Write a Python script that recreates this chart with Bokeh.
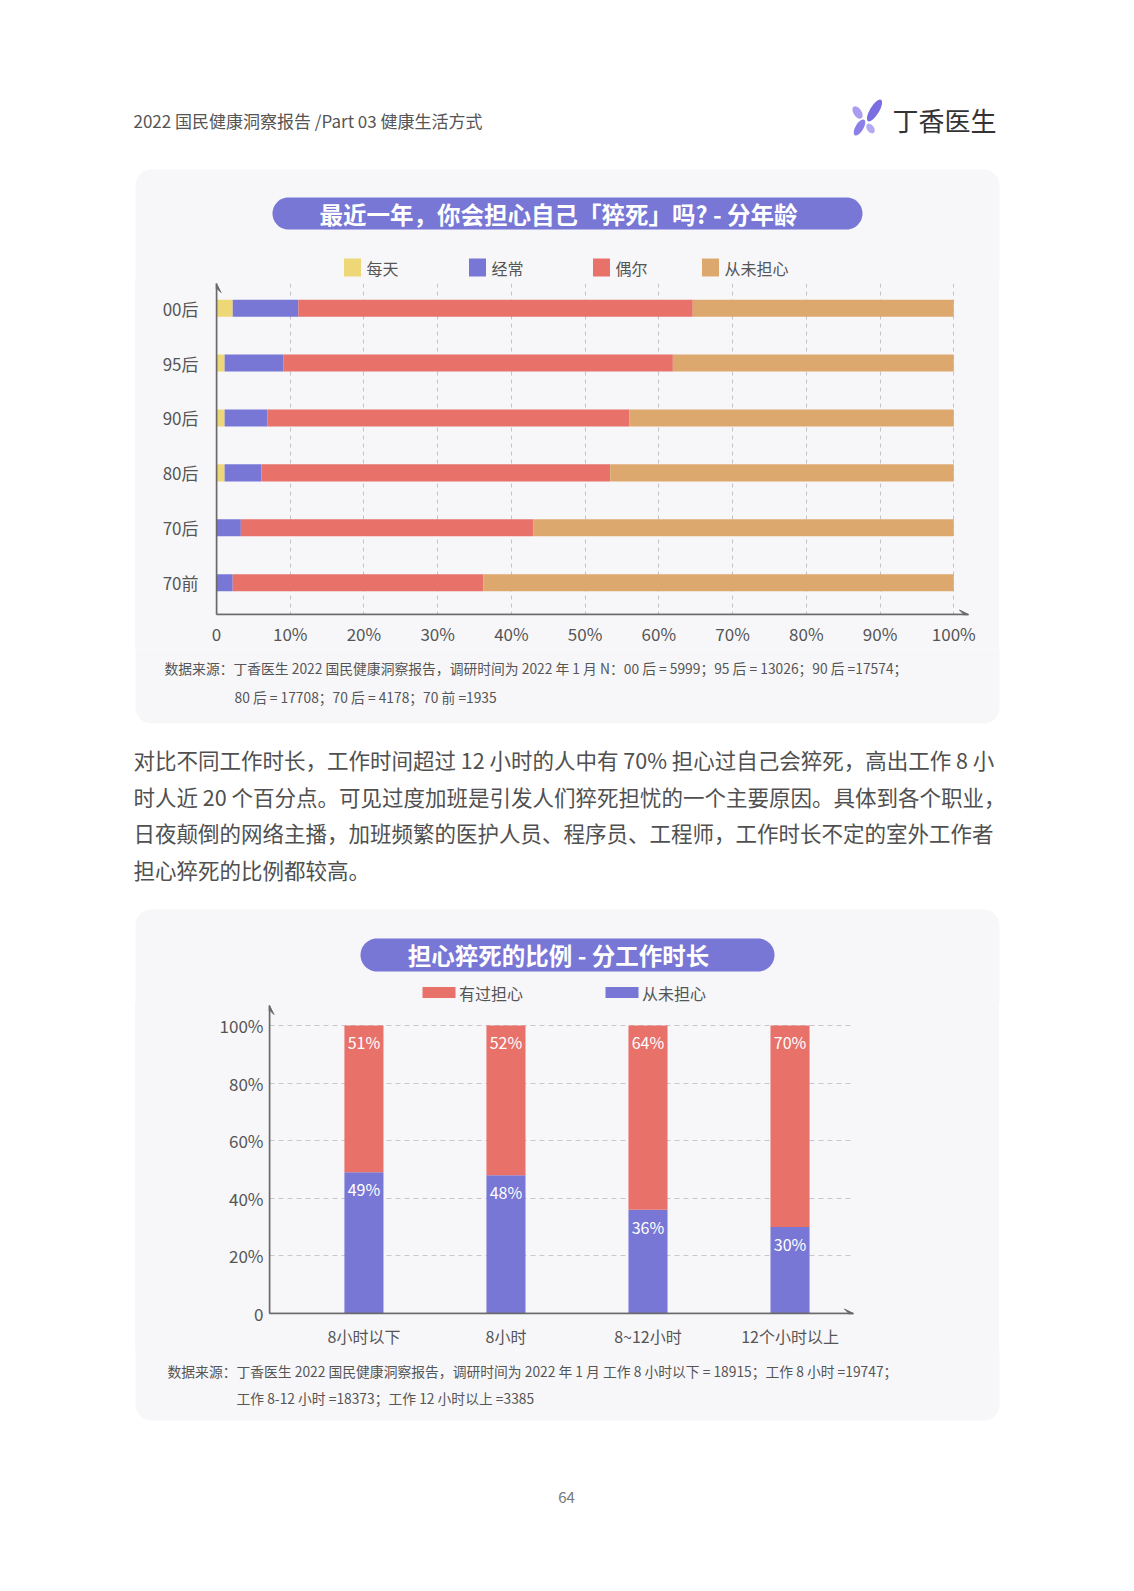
import numpy as np
from bokeh.plotting import figure
from bokeh.models import Range1d, ColumnDataSource, FixedTicker, Arrow, VeeHead
from bokeh.layouts import column, row
from bokeh.core.properties import value
from bokeh.embed import file_html
from bokeh.resources import INLINE

FONT = "Noto Sans CJK SC"

# ---------------- data: chart 1 ----------------
ages = ["00后", "95后", "90后", "80后", "70后", "70前"]
series1 = ["每天", "经常", "偶尔", "从未担心"]
daily = [2.2, 1.1, 1.1, 1.1, 0.0, 0.0]
often = [8.9, 8.0, 5.8, 5.0, 3.3, 2.2]
sometimes = [53.5, 52.8, 49.1, 47.3, 39.7, 34.0]
never1 = [35.4, 38.1, 44.0, 46.6, 57.0, 63.8]
x_ticks1 = [0, 10, 20, 30, 40, 50, 60, 70, 80, 90, 100]
x_tick_labels1 = ["0", "10%", "20%", "30%", "40%", "50%", "60%", "70%", "80%", "90%", "100%"]

# ---------------- data: chart 2 ----------------
hours = ["8小时以下", "8小时", "8~12小时", "12个小时以上"]
series2 = ["有过担心", "从未担心"]
worried = [51, 52, 64, 70]
never2 = [49, 48, 36, 30]
y_ticks2 = [0, 20, 40, 60, 80, 100]
y_tick_labels2 = ["0", "20%", "40%", "60%", "80%", "100%"]

# ---------------- texts ----------------
header_text = "2022 国民健康洞察报告 /Part 03 健康生活方式"
logo_text = "丁香医生"
title1 = "最近一年，你会担心自己「猝死」吗? - 分年龄"
title2 = "担心猝死的比例 - 分工作时长"
source1_lines = ["数据来源：丁香医生 2022 国民健康洞察报告，调研时间为 2022 年 1 月 N：00 后 = 5999；95 后 = 13026；90 后 =17574；",
                 "80 后 = 17708；70 后 = 4178；70 前 =1935"]
source2_lines = ["数据来源：丁香医生 2022 国民健康洞察报告，调研时间为 2022 年 1 月 工作 8 小时以下 = 18915；工作 8 小时 =19747；",
                 "工作 8-12 小时 =18373；工作 12 小时以上 =3385"]
para_lines = ["对比不同工作时长，工作时间超过 12 小时的人中有 70% 担心过自己会猝死，高出工作 8 小",
              "时人近 20 个百分点。可见过度加班是引发人们猝死担忧的一个主要原因。具体到各个职业，",
              "日夜颠倒的网络主播，加班频繁的医护人员、程序员、工程师，工作时长不定的室外工作者",
              "担心猝死的比例都较高。"]
page_no = "64"

# ---------------- style ----------------
YEL = "#EDD777"
BLU = "#7877D6"
RED = "#E8716A"
TAN = "#DDA86E"
CARD = "#F7F7FA"
AX = "#6a6a6a"
TXT = "#555555"
colors1 = [YEL, BLU, RED, TAN]
colors2 = [RED, BLU]
PAGE_W = 1134


def rrect(x0, y0, x1, y1, r, n=14):
    xs, ys = [], []
    for cx, cy, a0 in [(x1 - r, y0 + r, -np.pi / 2), (x1 - r, y1 - r, 0.0),
                       (x0 + r, y1 - r, np.pi / 2), (x0 + r, y0 + r, np.pi)]:
        t = np.linspace(a0, a0 + np.pi / 2, n)
        xs.extend(cx + r * np.cos(t))
        ys.extend(cy + r * np.sin(t))
    return xs, ys


def deco(y0, h, w=PAGE_W):
    f = figure(width=w, height=h, x_range=Range1d(0, w), y_range=Range1d(y0 + h, y0),
               x_axis_type=None, y_axis_type=None, output_backend="svg",
               toolbar_location=None, min_border=0)
    f.grid.visible = False
    f.outline_line_color = None
    f.background_fill_color = "white"
    f.border_fill_color = "white"
    return f


def txt(f, x, y, s, size, color=TXT, align="left", style="normal"):
    f.text(x=[x], y=[y], text=[s], text_font=value(FONT), text_font_size=size,
           text_color=color, text_align=align, text_baseline="middle", text_font_style=style)


def style_axes(p):
    for ax in (p.xaxis, p.yaxis):
        ax.axis_line_color = AX
        ax.axis_line_width = 1.5
        ax.major_tick_line_color = None
        ax.minor_tick_line_color = None
        ax.major_tick_out = 0
        ax.major_tick_in = 0
        ax.minor_tick_out = 0
        ax.major_label_text_font = FONT
        ax.major_label_text_color = TXT


# ---------------- band A: header + card 1 top ----------------
A0, AH = 0, 280
bA = deco(A0, AH)
txt(bA, 133, 120, header_text, "17px")
bA.ellipse(x=[874, 857, 859, 870], y=[110, 112, 127, 128], width=[9, 8, 8, 7], height=[25, 14, 18, 11],
           angle=[-0.55, 0.6, -0.55, 0.6], fill_color=["#7A6EE0", "#A89DF0", "#8B80E8", "#B3AAF2"], line_color=None)
txt(bA, 892, 119, logo_text, "26px", color="#333333")
xs, ys = rrect(135, 169, 999, 420, 16)
bA.patch(xs, ys, fill_color=CARD, line_color=None)
xs, ys = rrect(272, 197, 862, 229, 16)
bA.patch(xs, ys, fill_color=BLU, line_color=None)
txt(bA, 558, 213, title1, "23.5px", color="white", align="center", style="bold")
leg1_x = [352, 477, 601, 710]
bA.rect(x=leg1_x, y=[267] * 4, width=17, height=18, fill_color=colors1, line_color=None)
bA.text(x=[v + 14 for v in leg1_x], y=[267] * 4, text=series1, text_font=value(FONT), text_font_size="16px",
        text_color=TXT, text_baseline="middle")

# ---------------- band B: chart 1 ----------------
B0, BH = 280, 368
x1_end = 102
y1_bot, y1_top = 5.58, -0.45
p1 = figure(width=864, height=BH, x_range=Range1d(0, x1_end), y_range=Range1d(y1_bot, y1_top),
            output_backend="svg", toolbar_location=None,
            min_border_left=81, min_border_right=31, min_border_top=3, min_border_bottom=32)
src1 = ColumnDataSource(dict(pos=list(range(len(ages))), 每天=daily, 经常=often, 偶尔=sometimes, 从未担心=never1))
p1.hbar_stack(series1, y="pos", height=0.31, fill_color=colors1, line_color=None, source=src1)
p1.background_fill_color = CARD
p1.border_fill_color = CARD
p1.outline_line_color = None
p1.xaxis.ticker = FixedTicker(ticks=x_ticks1)
p1.xaxis.major_label_overrides = dict(zip(x_ticks1, x_tick_labels1))
p1.yaxis.ticker = FixedTicker(ticks=list(range(len(ages))))
p1.yaxis.major_label_overrides = dict(zip(range(len(ages)), ages))
style_axes(p1)
p1.xaxis.major_label_text_font_size = "17px"
p1.yaxis.major_label_text_font_size = "17px"
p1.xaxis.major_label_standoff = 6
p1.yaxis.major_label_standoff = 18
p1.ygrid.visible = False
p1.xgrid.grid_line_color = "#c4c4c8"
p1.xgrid.grid_line_dash = "4 4"
p1.add_layout(Arrow(end=VeeHead(size=9, fill_color=AX, line_color=AX), x_start=0, y_start=y1_bot,
                    x_end=0, y_end=y1_top, line_color=AX, line_width=1.5))
p1.add_layout(Arrow(end=VeeHead(size=9, fill_color=AX, line_color=AX), x_start=0, y_start=y1_bot,
                    x_end=x1_end, y_end=y1_bot, line_color=AX, line_width=1.5))
rowB = row(deco(B0, BH, 135), p1, deco(B0, BH, 135))

# ---------------- band C: source 1, paragraph, card 2 top ----------------
C0, CH = 648, 356
bC = deco(C0, CH)
xs, ys = rrect(135, 560, 999, 723, 16)
bC.patch(xs, ys, fill_color=CARD, line_color=None)
txt(bC, 164, 667, source1_lines[0], "13.8px")
txt(bC, 234, 696, source1_lines[1], "13.8px")
for i, line in enumerate(para_lines):
    txt(bC, 133, 759 + i * 36.7, line, "21.5px", color="#505050")
xs, ys = rrect(135, 909, 999, 1200, 16)
bC.patch(xs, ys, fill_color=CARD, line_color=None)
xs, ys = rrect(360, 938, 774, 971, 16.5)
bC.patch(xs, ys, fill_color=BLU, line_color=None)
txt(bC, 558, 954.5, title2, "23.5px", color="white", align="center", style="bold")
leg2_x = [438.5, 621.5]
bC.rect(x=leg2_x, y=[992] * 2, width=33, height=11, fill_color=colors2, line_color=None)
bC.text(x=[v + 20 for v in leg2_x], y=[992] * 2, text=series2, text_font=value(FONT), text_font_size="16px",
        text_color=TXT, text_baseline="middle")

# ---------------- band D: chart 2 ----------------
D0, DH = 1004, 346
x2_start, x2_end = -0.665, 3.447
y2_end = 106.9
p2 = figure(width=864, height=DH, x_range=Range1d(x2_start, x2_end), y_range=Range1d(0, y2_end),
            output_backend="svg", toolbar_location=None,
            min_border_left=134, min_border_right=146, min_border_top=1, min_border_bottom=35)
xpos = list(range(len(hours)))
src2 = ColumnDataSource(dict(x=xpos, 有过担心=worried, 从未担心=never2))
p2.vbar_stack(["从未担心", "有过担心"], x="x", width=0.275, fill_color=[BLU, RED], line_color=None, source=src2)
lab_x = xpos + xpos
lab_y = list(never2) + [a + b for a, b in zip(never2, worried)]
lab_t = [f"{v}%" for v in never2] + [f"{v}%" for v in worried]
p2.text(x=lab_x, y=lab_y, text=lab_t, text_align="center", text_baseline="middle", y_offset=17,
        text_color="white", text_font_size="16px", text_font=value(FONT))
p2.background_fill_color = CARD
p2.border_fill_color = CARD
p2.outline_line_color = None
p2.yaxis.ticker = FixedTicker(ticks=y_ticks2)
p2.yaxis.major_label_overrides = dict(zip(y_ticks2, y_tick_labels2))
p2.xaxis.ticker = FixedTicker(ticks=xpos)
p2.xaxis.major_label_overrides = dict(zip(xpos, hours))
style_axes(p2)
p2.yaxis.major_label_text_font_size = "17px"
p2.xaxis.major_label_text_font_size = "16px"
p2.yaxis.major_label_standoff = 6
p2.xaxis.major_label_standoff = 10
p2.xgrid.visible = False
p2.ygrid.grid_line_color = "#c8c8cc"
p2.ygrid.grid_line_dash = "5 4"
p2.add_layout(Arrow(end=VeeHead(size=9, fill_color=AX, line_color=AX), x_start=x2_start, y_start=0,
                    x_end=x2_start, y_end=y2_end, line_color=AX, line_width=1.5))
p2.add_layout(Arrow(end=VeeHead(size=9, fill_color=AX, line_color=AX), x_start=x2_start, y_start=0,
                    x_end=x2_end, y_end=0, line_color=AX, line_width=1.5))
rowD = row(deco(D0, DH, 135), p2, deco(D0, DH, 135))

# ---------------- band E: source 2, page number ----------------
E0, EH = 1350, 241
bE = deco(E0, EH)
xs, ys = rrect(135, 1250, 999, 1420, 16)
bE.patch(xs, ys, fill_color=CARD, line_color=None)
txt(bE, 167, 1370, source2_lines[0], "13.8px")
txt(bE, 236, 1397, source2_lines[1], "13.8px")
txt(bE, 566, 1497, page_no, "15px", color="#777777", align="center")

# page backdrop behind the stacked pieces: white page with the card strip between y=180 and y=1410
bg = (f"linear-gradient(to right, #ffffff 135px, {CARD} 135px, {CARD} 999px, #ffffff 999px) "
      f"0px 180px / 100% 1230px no-repeat #ffffff")
layout = column(bA, rowB, bC, rowD, bE, styles={"background": bg})
open("out.html", "w").write(file_html(layout, INLINE))
